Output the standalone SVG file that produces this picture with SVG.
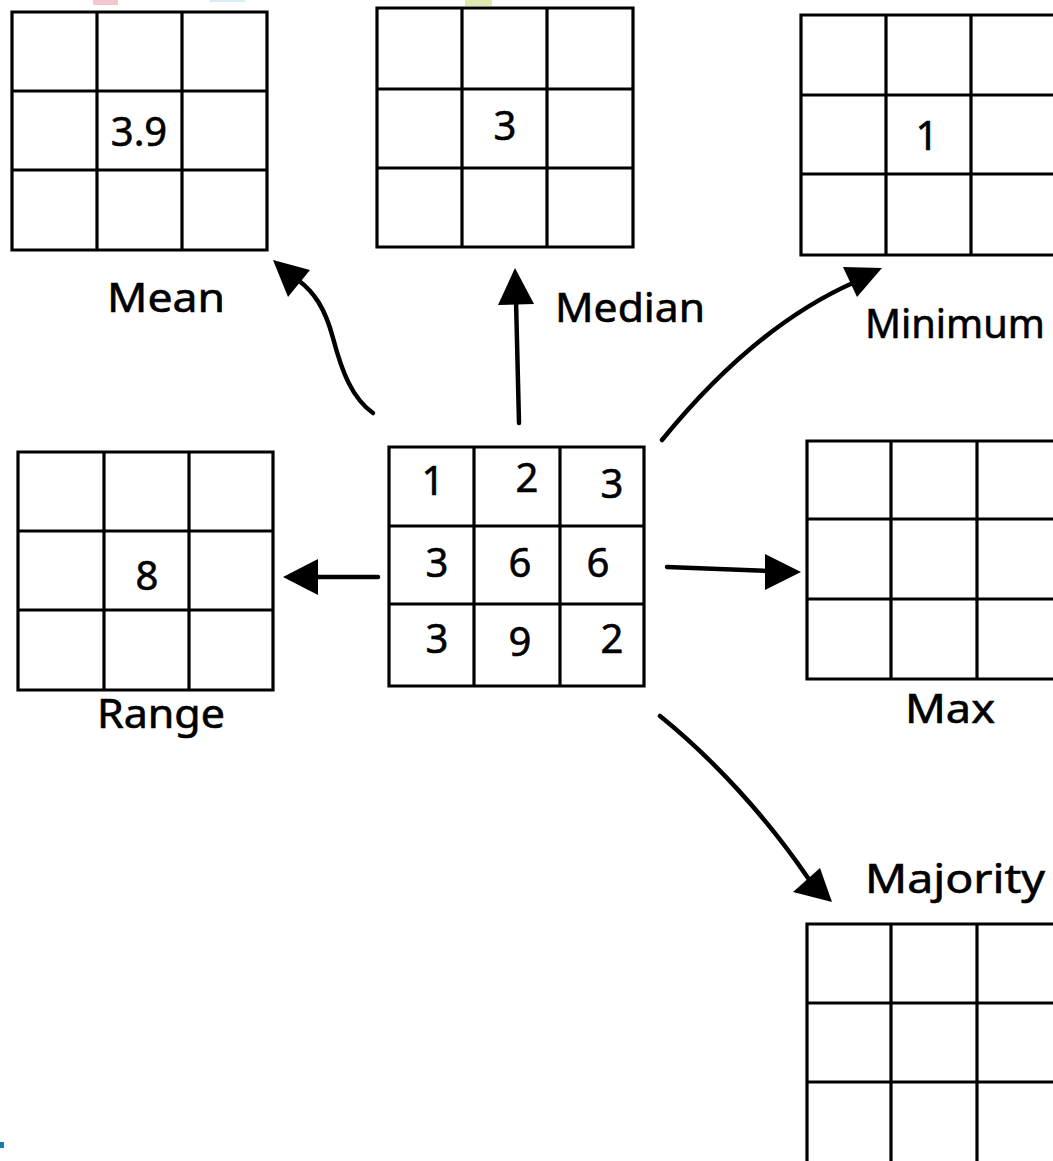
<svg xmlns="http://www.w3.org/2000/svg" width="1053" height="1161" viewBox="0 0 1053 1161">
<style>
.g{fill:none;stroke:#000;stroke-width:3.2}
.t{font-family:"Comic Sans MS","Noto Sans","DejaVu Sans",sans-serif;font-size:40px;fill:#000;stroke:#000;stroke-width:0.6}
.n{font-family:"Comic Sans MS","Noto Sans","DejaVu Sans",sans-serif;font-size:40px;fill:#000;stroke:#000;stroke-width:0.6;text-anchor:middle}
.c{fill:none;stroke:#000;stroke-width:4.5;stroke-linecap:round}
.h{fill:#000}
</style>
<rect width="1053" height="1161" fill="#fff"/>
<rect x="93" y="0" width="25" height="5" fill="#f4c6cf"/>
<rect x="210" y="0" width="35" height="2" fill="#d8eef5"/>
<rect x="465" y="0" width="27" height="6" fill="#dfe9b0"/>
<rect x="0" y="1142" width="4" height="6" fill="#1a7ab0"/>

<g id="mean">
<path class="g" d="M12,12H267V250H12Z M97,12V250 M182,12V250 M12,91H267 M12,170H267"/>
<text class="n" x="139" y="146">3.9</text>
<text class="t" x="107" y="312" textLength="118" lengthAdjust="spacingAndGlyphs">Mean</text>
</g>
<g id="median">
<path class="g" d="M377,8H633V247H377Z M462,8V247 M547,8V247 M377,89H633 M377,168H633"/>
<text class="n" x="505" y="140">3</text>
<text class="t" x="555" y="322" textLength="150" lengthAdjust="spacingAndGlyphs">Median</text>
</g>
<g id="minimum">
<path class="g" d="M801,15H1058V255H801Z M886,15V255 M971,15V255 M801,95H1058 M801,174H1058"/>
<text class="n" x="927" y="150">1</text>
<text class="t" x="865" y="338" textLength="180" lengthAdjust="spacingAndGlyphs">Minimum</text>
</g>
<g id="input">
<path class="g" d="M389,447H644V686H389Z M474,447V686 M560,447V686 M389,526H644 M389,604H644"/>
<text class="n" x="433" y="495">1</text>
<text class="n" x="527" y="492">2</text>
<text class="n" x="612" y="498">3</text>
<text class="n" x="437" y="577">3</text>
<text class="n" x="520" y="577">6</text>
<text class="n" x="598" y="577">6</text>
<text class="n" x="437" y="653">3</text>
<text class="n" x="520" y="656">9</text>
<text class="n" x="612" y="653">2</text>
</g>
<g id="range">
<path class="g" d="M18,452H273V690H18Z M104,452V690 M189,452V690 M18,531H273 M18,610H273"/>
<text class="n" x="147" y="590">8</text>
<text class="t" x="97" y="728" textLength="128" lengthAdjust="spacingAndGlyphs">Range</text>
</g>
<g id="max">
<path class="g" d="M807,441H1058V679H807Z M891,441V679 M977,441V679 M807,519H1058 M807,599H1058"/>
<text class="t" x="905" y="723" textLength="90" lengthAdjust="spacingAndGlyphs">Max</text>
</g>
<g id="majority">
<path class="g" d="M807,924H1058V1163H807Z M891,924V1163 M977,924V1163 M807,1003H1058 M807,1082H1058"/>
<text class="t" x="865" y="893" textLength="180" lengthAdjust="spacingAndGlyphs">Majority</text>
</g>

<g id="connectors">
<path class="c" d="M373,413 C352,398 342,372 333,338 C325,308 314,292 298,280"/>
<polygon class="h" points="273,260 310,270 288,297"/>
<path class="c" d="M519,423 L516,300"/>
<polygon class="h" points="515,268 534,304 498,305"/>
<path class="c" d="M662,440 C715,375 780,315 855,282"/>
<polygon class="h" points="882,268 843,267 857,297"/>
<path class="c" d="M378,577 L315,577"/>
<polygon class="h" points="283,577 318,559 318,595"/>
<path class="c" d="M667,567 L770,571"/>
<polygon class="h" points="801,572 765,554 765,590"/>
<path class="c" d="M660,716 C712,758 765,815 808,878"/>
<polygon class="h" points="832,902 793,892 820,868"/>
</g>
</svg>
